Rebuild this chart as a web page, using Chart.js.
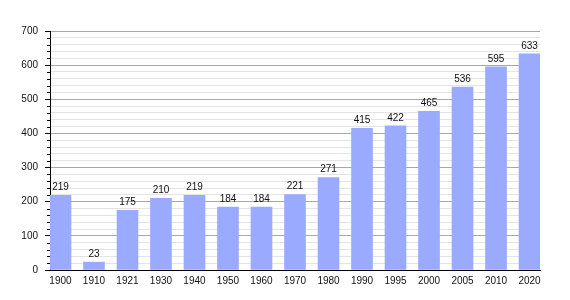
<!DOCTYPE html>
<html>
<head>
<meta charset="utf-8">
<script src="https://cdn.jsdelivr.net/npm/chart.js@4/dist/chart.umd.min.js"></script>
<style>
  html, body { margin: 0; padding: 0; background: #fff; }
  #wrap { width: 570px; height: 300px; }
</style>
</head>
<body>
<div id="wrap"><canvas id="popChart"></canvas></div>
<script>
// données : population par année de recensement
const years = ['1900', '1910', '1921', '1930', '1940', '1950', '1960', '1970', '1980', '1990', '1995', '2000', '2005', '2010', '2020'];
const population = [219, 23, 175, 210, 219, 184, 184, 221, 271, 415, 422, 465, 536, 595, 633];
const yTicks = [0, 100, 200, 300, 400, 500, 600, 700];

const FONT = { family: 'Liberation Sans, Arial, sans-serif', size: 10 };

// étiquettes de valeur au-dessus des barres + petites graduations
const extras = {
  id: 'extras',
  afterDatasetsDraw(chart) {
    const ctx = chart.ctx;
    const meta = chart.getDatasetMeta(0);
    ctx.save();
    ctx.font = '10px ' + FONT.family;
    ctx.fillStyle = '#111';
    ctx.textAlign = 'center';
    ctx.textBaseline = 'bottom';
    meta.data.forEach((bar, i) => {
      ctx.fillText(population[i], bar.x, bar.y - 3);
    });
    // graduations mineures tous les 20
    const y = chart.scales.y;
    const left = chart.chartArea.left;
    ctx.strokeStyle = '#000';
    ctx.lineWidth = 1;
    for (let v = 0; v <= 700; v += 20) {
      if (v % 100 === 0) continue;
      const py = Math.round(y.getPixelForValue(v)) + 0.5;
      ctx.beginPath();
      ctx.moveTo(left - 3, py);
      ctx.lineTo(left, py);
      ctx.stroke();
    }
    ctx.restore();
  }
};

new Chart(document.getElementById('popChart'), {
  type: 'bar',
  data: {
    datasets: [{
      data: population.map((v, i) => ({ x: i, y: v })),
      backgroundColor: '#9aabff',
      borderWidth: 0,
      barThickness: 21
    }]
  },
  options: {
    responsive: true,
    maintainAspectRatio: false,
    animation: false,
    layout: { padding: { top: 31, right: 30, left: 0, bottom: 0 } },
    plugins: { legend: { display: false }, tooltip: { enabled: false } },
    scales: {
      x: {
        type: 'linear',
        offset: false,
        min: -0.313,
        max: 14.313,
        afterBuildTicks: (s) => { s.ticks = years.map((_, i) => ({ value: i })); },
        afterFit: (s) => { s.height = 30; },
        grid: { display: false, drawTicks: false, offset: false },
        border: { color: '#000', width: 1 },
        ticks: {
          autoSkip: false,
          maxRotation: 0,
          padding: 5,
          color: '#111',
          font: FONT,
          callback: (v) => years[v]
        }
      },
      y: {
        min: 0,
        max: 700,
        afterBuildTicks: (s) => {
          const t = [];
          for (let v = 0; v <= 700; v += 20) t.push({ value: v });
          s.ticks = t;
        },
        afterFit: (s) => { s.width = 50; },
        grid: {
          color: (c) => (c.tick && c.tick.value % 100 === 0) ? '#a8a8a8' : '#e4e4e4',
          tickColor: (c) => (c.tick && c.tick.value % 100 === 0) ? '#000' : 'rgba(0,0,0,0)',
          tickLength: 5
        },
        border: { color: '#000', width: 1 },
        ticks: {
          autoSkip: false,
          padding: 7,
          color: '#111',
          font: FONT,
          callback: (v) => yTicks.includes(v) ? v : ''
        }
      }
    }
  },
  plugins: [extras]
});
</script>
</body>
</html>
